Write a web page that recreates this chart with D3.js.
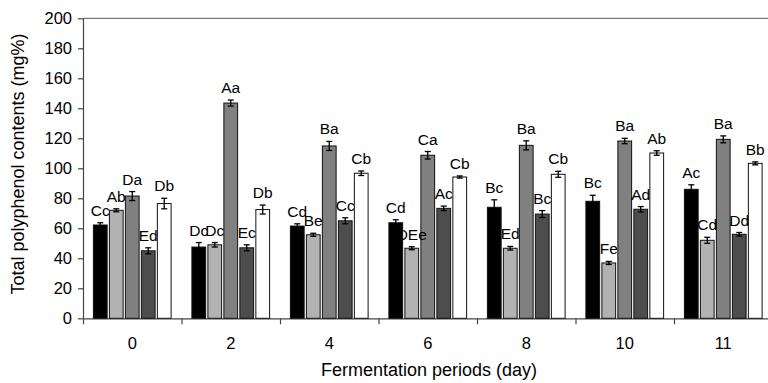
<!DOCTYPE html>
<html>
<head>
<meta charset="utf-8">
<script src="https://cdn.jsdelivr.net/npm/d3@7"></script>
<style>
  body { margin: 0; background: #fff; }
  svg { display: block; font-family: "Liberation Sans", Arial, sans-serif; }
</style>
</head>
<body>
<svg id="chart" width="768" height="383"></svg>
<script>
// fermentation days and the five samples per day
var days = ["0", "2", "4", "6", "8", "10", "11"];
var series = ["s1", "s2", "s3", "s4", "s5"];
var fills = ["#000000", "#b2b2b2", "#808080", "#4d4d4d", "#ffffff"];

// mean values (mg%), one row per series
var means = [
  [62.2, 47.5, 61.5, 63.7, 74.0, 78.0, 86.0],
  [72.0, 49.0, 55.7, 46.7, 46.7, 36.9, 52.0],
  [81.5, 143.5, 114.9, 108.7, 115.3, 118.2, 119.3],
  [45.0, 47.0, 65.0, 73.3, 69.5, 72.7, 56.0],
  [76.5, 72.5, 96.7, 94.2, 96.0, 110.2, 103.3]
];
var errs = [
  [1.5, 3.0, 1.5, 2.0, 5.0, 4.0, 3.0],
  [1.0, 1.5, 1.0, 1.0, 1.2, 1.0, 2.0],
  [3.0, 2.0, 3.0, 2.5, 3.0, 1.8, 2.3],
  [2.0, 2.0, 2.0, 1.5, 2.3, 1.8, 1.2],
  [3.5, 3.0, 1.5, 0.7, 2.0, 1.5, 1.0]
];
var letters = [
  ["Cc", "Dc", "Cd", "Cd", "Bc", "Bc", "Ac"],
  ["Ab", "Dc", "Be", "DEe", "Ed", "Fe", "Cd"],
  ["Da", "Aa", "Ba", "Ca", "Ba", "Ba", "Ba"],
  ["Ed", "Ec", "Cc", "Ac", "Bc", "Ad", "Dd"],
  ["Db", "Db", "Cb", "Cb", "Cb", "Ab", "Bb"]
];
var yTicks = [0, 20, 40, 60, 80, 100, 120, 140, 160, 180, 200];

var svg = d3.select("#chart");
var mLeft = 83, mRight = 772.5, mTop = 18.3, mBottom = 318.3;

var x0 = d3.scaleBand().domain(days).range([mLeft, mRight]).padding(0);
var x1 = d3.scaleBand().domain(series).range([0, x0.bandwidth()])
    .paddingInner(0.14).paddingOuter(0.65);
var y = d3.scaleLinear().domain([0, 200]).range([mBottom, mTop]);

// top frame line
svg.append("line")
    .attr("x1", mLeft).attr("x2", 768)
    .attr("y1", mTop).attr("y2", mTop)
    .attr("stroke", "#777").attr("stroke-width", 1.2);

// y axis
var yAxis = svg.append("g")
    .attr("transform", "translate(" + mLeft + ",0)")
    .call(d3.axisLeft(y).tickValues(yTicks).tickSize(5).tickSizeOuter(0));
yAxis.selectAll("text").attr("font-size", 16.5).attr("fill", "#000").attr("dx", -3)
    .attr("font-family", "Liberation Sans, Arial, sans-serif");
yAxis.selectAll("line, path").attr("stroke", "#444").attr("stroke-width", 1.2);

// x axis: ticks at group boundaries, labels at group centres
var xb = d3.scaleLinear().domain([0, days.length]).range([mLeft, mRight]);
var xAxis = svg.append("g")
    .attr("transform", "translate(0," + mBottom + ")")
    .call(d3.axisBottom(xb).ticks(days.length).tickSize(6).tickSizeOuter(0).tickFormat(""));
xAxis.selectAll("line, path").attr("stroke", "#444").attr("stroke-width", 1.2);

svg.append("g").selectAll("text")
    .data(days)
    .join("text")
    .attr("x", d => x0(d) + x0.bandwidth() / 2)
    .attr("y", mBottom + 31)
    .attr("text-anchor", "middle")
    .attr("font-size", 16.5)
    .text(d => d);

// bars
var rows = [];
series.forEach(function(s, si) {
    days.forEach(function(d, di) {
        rows.push({s: s, si: si, day: d, v: means[si][di], e: errs[si][di], lab: letters[si][di]});
    });
});

var g = svg.append("g");
g.selectAll("rect")
    .data(rows)
    .join("rect")
    .attr("x", d => x0(d.day) + x1(d.s))
    .attr("y", d => y(d.v))
    .attr("width", x1.bandwidth())
    .attr("height", d => mBottom - y(d.v))
    .attr("fill", d => fills[d.si])
    .attr("stroke", "#111")
    .attr("stroke-width", 1);

// error bars
var eb = svg.append("g").attr("stroke", "#000").attr("stroke-width", 1.3);
rows.forEach(function(d) {
    var cx = x0(d.day) + x1(d.s) + x1.bandwidth() / 2;
    eb.append("line").attr("x1", cx).attr("x2", cx).attr("y1", y(d.v + d.e)).attr("y2", y(d.v - d.e));
    eb.append("line").attr("x1", cx - 3).attr("x2", cx + 3).attr("y1", y(d.v + d.e)).attr("y2", y(d.v + d.e));
    eb.append("line").attr("x1", cx - 3).attr("x2", cx + 3).attr("y1", y(d.v - d.e)).attr("y2", y(d.v - d.e));
});

// significance letters
svg.append("g").selectAll("text")
    .data(rows)
    .join("text")
    .attr("x", d => x0(d.day) + x1(d.s) + x1.bandwidth() / 2)
    .attr("y", d => y(d.v + d.e) - 7)
    .attr("text-anchor", "middle")
    .attr("font-size", 15.5)
    .text(d => d.lab);

// axis titles
svg.append("text")
    .attr("transform", "translate(24,164) rotate(-90)")
    .attr("text-anchor", "middle")
    .attr("font-size", 18)
    .text("Total polyphenol contents (mg%)");

svg.append("text")
    .attr("x", 429).attr("y", 376)
    .attr("text-anchor", "middle")
    .attr("font-size", 18)
    .text("Fermentation periods (day)");
</script>
</body>
</html>
